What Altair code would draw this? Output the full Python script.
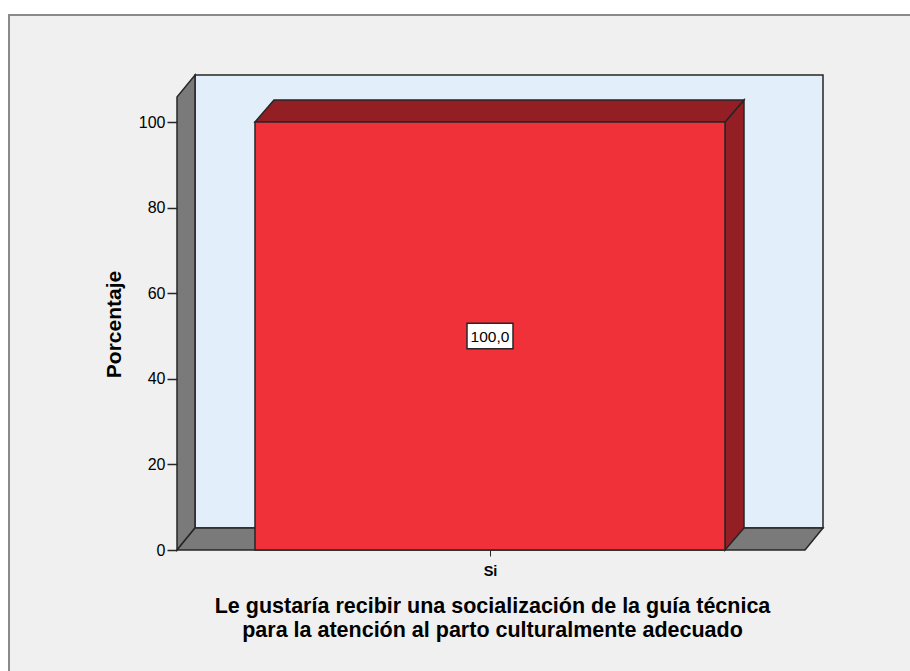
import altair as alt
import pandas as pd

# ---------------- data ----------------
categories = ["Si"]
percentages = [100.0]
y_ticks = [0, 20, 40, 60, 80, 100]
x_title = ["Le gustaría recibir una socialización de la guía técnica",
           "para la atención al parto culturalmente adecuado"]
y_title = "Porcentaje"

# ---------------- layout (plot units) ----------------
W, H = 646, 475
X_MAX = 646.0          # x scale runs in pixel-like units
Y_MAX = 111.0          # top of back wall in percent units
DX = 18.0              # depth offset (x)
DY = 5.14              # depth offset (y, percent units)
WALL_TOP = Y_MAX - DY
FRONT_RIGHT = X_MAX - DX
BAR_HALF = 235.0
BAR_DX = 19.0
BOX_HALF_W = 23.0
BOX_HALF_H = 3.0
FONT = "Liberation Sans"
EDGE = "#262626"

slot = FRONT_RIGHT / len(categories)
centers = [slot * (i + 0.5) - 1 for i in range(len(categories))]

xs = alt.Scale(domain=[0, X_MAX], nice=False, zero=False)
ys = alt.Scale(domain=[0, Y_MAX], nice=False, zero=False)

label_expr = " : ".join(
    [f"datum.value == {c} ? '{cat}'" for cat, c in zip(categories, centers)] + ["''"]
)
x_axis = alt.Axis(values=centers, labelExpr=label_expr, grid=False, domain=False,
                  zindex=1,
                  tickSize=6, tickColor=EDGE, tickWidth=1,
                  labelFont=FONT, labelFontSize=14.5, labelFontWeight="bold",
                  labelColor="#000", labelPadding=8,
                  titleFont=FONT, titleFontSize=21.5, titleFontWeight="bold",
                  titleColor="#000", titleLineHeight=24,
                  titleX=315, titleY=62, titleAlign="center",
                  titleBaseline="alphabetic")
y_axis = alt.Axis(values=y_ticks, grid=False, domain=False, zindex=1,
                  tickSize=10, tickColor=EDGE, tickWidth=1.5,
                  labelFont=FONT, labelFontSize=16, labelColor="#000", labelPadding=2,
                  titleFont=FONT, titleFontSize=21, titleFontWeight="bold",
                  titleColor="#000", titleAngle=270,
                  titleX=-63, titleY=249, titleAlign="center",
                  titleBaseline="middle")


def X(field):
    return alt.X(field, scale=xs, axis=x_axis, title=x_title)


def Y(field):
    return alt.Y(field, scale=ys, axis=y_axis, title=y_title)


# ---------------- frame ----------------
frame = alt.Chart(pd.DataFrame({"k": [0]})).mark_rect(
    fill="#F0F0F0", stroke="#8A8A8A", strokeWidth=2
).encode(x=alt.value(-168), x2=alt.value(760), y=alt.value(-60), y2=alt.value(620))

# ---------------- walls ----------------
back = alt.Chart(pd.DataFrame({"x": [DX], "x2": [X_MAX], "y": [DY], "y2": [Y_MAX]})).mark_rect(
    fill="#E2EEFA", stroke=EDGE, strokeWidth=1.5
).encode(x=X("x:Q"), x2="x2:Q", y=Y("y:Q"), y2="y2:Q")

left_wall = alt.Chart(pd.DataFrame({"x": [0, DX], "y": [0, DY], "y2": [WALL_TOP, Y_MAX]})).mark_area(
    orient="vertical", fill="#7A7A7A", stroke=EDGE, strokeWidth=1.5
).encode(x=X("x:Q"), y=Y("y:Q"), y2="y2:Q")

floor = alt.Chart(pd.DataFrame({"y": [0, DY], "x": [0, DX], "x2": [FRONT_RIGHT, X_MAX]})).mark_area(
    orient="horizontal", fill="#7A7A7A", stroke=EDGE, strokeWidth=1.5
).encode(y=Y("y:Q"), x=X("x:Q"), x2="x2:Q")

# ---------------- bars ----------------
layers = [frame, back, left_wall, floor]
for cat, val, c in zip(categories, percentages, centers):
    side = alt.Chart(pd.DataFrame({
        "x": [c + BAR_HALF, c + BAR_HALF + BAR_DX], "y": [0, DY], "y2": [val, val + DY]
    })).mark_area(orient="vertical", fill="#931E24", stroke=EDGE, strokeWidth=1.5).encode(
        x=X("x:Q"), y=Y("y:Q"), y2="y2:Q")
    top = alt.Chart(pd.DataFrame({
        "y": [val, val + DY],
        "x": [c - BAR_HALF, c - BAR_HALF + BAR_DX],
        "x2": [c + BAR_HALF, c + BAR_HALF + BAR_DX],
    })).mark_area(orient="horizontal", fill="#931E24", stroke=EDGE, strokeWidth=1.5).encode(
        y=Y("y:Q"), x=X("x:Q"), x2="x2:Q")
    layers += [side, top]

front_df = pd.DataFrame({
    "cat": categories,
    "x": [c - BAR_HALF for c in centers],
    "x2": [c + BAR_HALF for c in centers],
    "y": [0.0] * len(categories),
    "y2": percentages,
})
front = alt.Chart(front_df).mark_rect(fill="#F0313A", stroke=EDGE, strokeWidth=1.5).encode(
    x=X("x:Q"), x2="x2:Q", y=Y("y:Q"), y2="y2:Q")

lab_df = pd.DataFrame({
    "x": centers,
    "bx": [c - BOX_HALF_W for c in centers],
    "bx2": [c + BOX_HALF_W for c in centers],
    "y": [v / 2 for v in percentages],
    "by": [v / 2 - BOX_HALF_H for v in percentages],
    "by2": [v / 2 + BOX_HALF_H for v in percentages],
    "label": [f"{v:.1f}".replace(".", ",") for v in percentages],
})
box = alt.Chart(lab_df).mark_rect(fill="white", stroke=EDGE, strokeWidth=1.5).encode(
    x=X("bx:Q"), x2="bx2:Q", y=Y("by:Q"), y2="by2:Q")
txt = alt.Chart(lab_df).mark_text(font=FONT, fontSize=15.5, color="#000", baseline="middle",
                                   align="center", dy=1).encode(
    x=X("x:Q"), y=Y("y:Q"), text="label:N")

layers += [front, box, txt]

chart = alt.layer(*layers).properties(
    width=W, height=H,
    autosize=alt.AutoSizeParams(type="none"),
    padding={"left": 177, "top": 75, "right": 87, "bottom": 121},
    background="white",
).configure_view(stroke=None)

chart.save("out.html", embed_options={"renderer": "svg", "actions": False})
